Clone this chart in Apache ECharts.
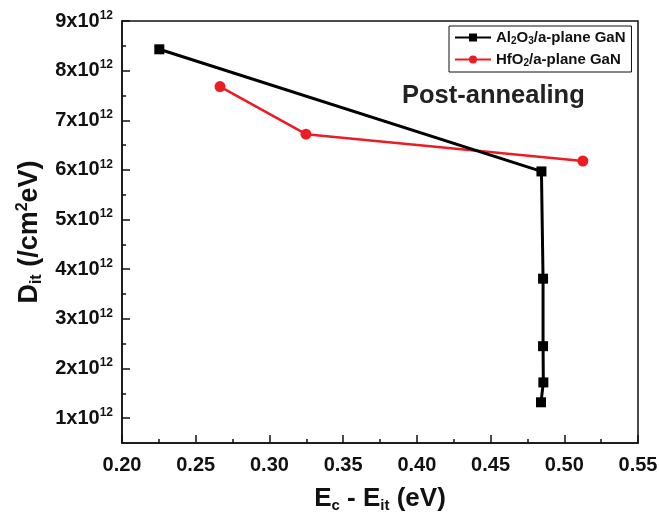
<!DOCTYPE html>
<html>
<head>
<meta charset="utf-8">
<script src="https://cdn.jsdelivr.net/npm/echarts@6/dist/echarts.min.js"></script>
<style>
html,body{margin:0;padding:0;background:#fff;}
#c{width:659px;height:517px;}
</style>
</head>
<body>
<div id="c"></div>
<script>
// Data (x: Ec - Eit in eV, y: Dit in /cm^2eV)
const al2o3X = [0.2253, 0.4845, 0.4856, 0.4856, 0.4858, 0.4842];
const al2o3Y = [8.43e12, 5.97e12, 3.81e12, 2.45e12, 1.72e12, 1.32e12];
const hfo2X = [0.2665, 0.3248, 0.5126];
const hfo2Y = [7.68e12, 6.72e12, 6.18e12];
const yMajorTicks = [1e12, 2e12, 3e12, 4e12, 5e12, 6e12, 7e12, 8e12, 9e12];
const yMinorTicks = [1.5e12, 2.5e12, 3.5e12, 4.5e12, 5.5e12, 6.5e12, 7.5e12, 8.5e12];
const seriesNames = ['Al2O3/a-plane GaN', 'HfO2/a-plane GaN'];

const FONT = 'Liberation Sans, Arial, sans-serif';
const chart = echarts.init(document.getElementById('c'), null, {renderer: 'canvas'});

function pairs(xs, ys) { return xs.map((x, i) => [x, ys[i]]); }

const subStyle = (fs, pad) => ({fontSize: fs, fontWeight: 'bold', fontFamily: FONT, color: '#111', padding: [pad, 0, 0, 0]});
const supStyle = (fs, pad) => ({fontSize: fs, fontWeight: 'bold', fontFamily: FONT, color: '#111', padding: [0, 0, pad, 0]});
const mainStyle = (fs) => ({fontSize: fs, fontWeight: 'bold', fontFamily: FONT, color: '#111'});

const option = {
  backgroundColor: '#fff',
  animation: false,
  grid: {left: 122, right: 21, top: 21, bottom: 74, show: true, borderColor: '#111', borderWidth: 1.5,
         containLabel: false, outerBoundsMode: 'none'},
  legend: {
    orient: 'vertical', left: 449, top: 26,
    borderColor: '#111', borderWidth: 1, borderRadius: 0,
    padding: [4, 6, 4, 5], itemGap: 6, itemWidth: 36, itemHeight: 10,
    data: seriesNames,
    formatter: function (n) {
      if (n.indexOf('Al2O3') === 0) return '{m|Al}{b|2}{m|O}{b|3}{m|/a-plane GaN}';
      return '{m|HfO}{b|2}{m|/a-plane GaN}';
    },
    textStyle: {
      rich: {m: mainStyle(15), b: subStyle(10, 7)}
    }
  },
  xAxis: {
    type: 'value', min: 0.2, max: 0.55, interval: 0.05,
    name: '{m|E}{b|c}{m| - E}{b|it}{m| (eV)}',
    nameLocation: 'middle', nameGap: 42,
    nameTextStyle: {rich: {m: mainStyle(26), b: subStyle(15, 13)}},
    axisLine: {show: true, lineStyle: {color: '#111', width: 1.5}},
    axisTick: {show: true, inside: true, length: 8, lineStyle: {color: '#111', width: 1.5}},
    minorTick: {show: true, splitNumber: 2, length: 4, lineStyle: {color: '#111', width: 1.5}},
    splitLine: {show: false}, minorSplitLine: {show: false},
    axisLabel: {
      margin: 12, fontSize: 20, fontWeight: 'bold', fontFamily: FONT, color: '#111',
      showMinLabel: true, showMaxLabel: true,
      formatter: v => v.toFixed(2)
    }
  },
  yAxis: [{
    type: 'value', min: 0.5e12, max: 9e12,
    name: '{m|D}{b|it}{m| (/cm}{p|2}{m|eV)}',
    nameLocation: 'middle', nameGap: 76, nameRotate: 90,
    nameTextStyle: {rich: {m: mainStyle(27), b: subStyle(16, 14), p: supStyle(16, 14)}},
    axisLine: {show: true, lineStyle: {color: '#111', width: 1.5}},
    axisTick: {show: true, inside: true, length: 8, customValues: yMajorTicks, lineStyle: {color: '#111', width: 1.5}},
    splitLine: {show: false},
    axisLabel: {
      margin: 9, customValues: yMajorTicks,
      formatter: v => '{m|' + Math.round(v / 1e12) + 'x10}{p|12}',
      rich: {m: mainStyle(20), p: supStyle(12, 11)}
    }
  }, {
    type: 'value', min: 0.5e12, max: 9e12, position: 'left',
    axisLine: {show: false},
    axisTick: {show: true, inside: true, length: 4, customValues: yMinorTicks, lineStyle: {color: '#111', width: 1.5}},
    axisLabel: {show: false},
    splitLine: {show: false}
  }],
  series: [{
    name: seriesNames[0], type: 'line', yAxisIndex: 0,
    data: pairs(al2o3X, al2o3Y),
    symbol: 'rect', symbolSize: 10,
    lineStyle: {color: '#000', width: 3},
    itemStyle: {color: '#000'},
    z: 3
  }, {
    name: seriesNames[1], type: 'line', yAxisIndex: 0,
    data: pairs(hfo2X, hfo2Y),
    symbol: 'circle', symbolSize: 11,
    lineStyle: {color: '#ec1c24', width: 2.5},
    itemStyle: {color: '#ec1c24'},
    z: 2
  }],
  graphic: [{
    type: 'text', left: 402, top: 83,
    style: {text: 'Post-annealing', fontSize: 25.5, fontWeight: 'bold', fontFamily: FONT, fill: '#222'}
  }]
};
chart.setOption(option);
</script>
</body>
</html>
